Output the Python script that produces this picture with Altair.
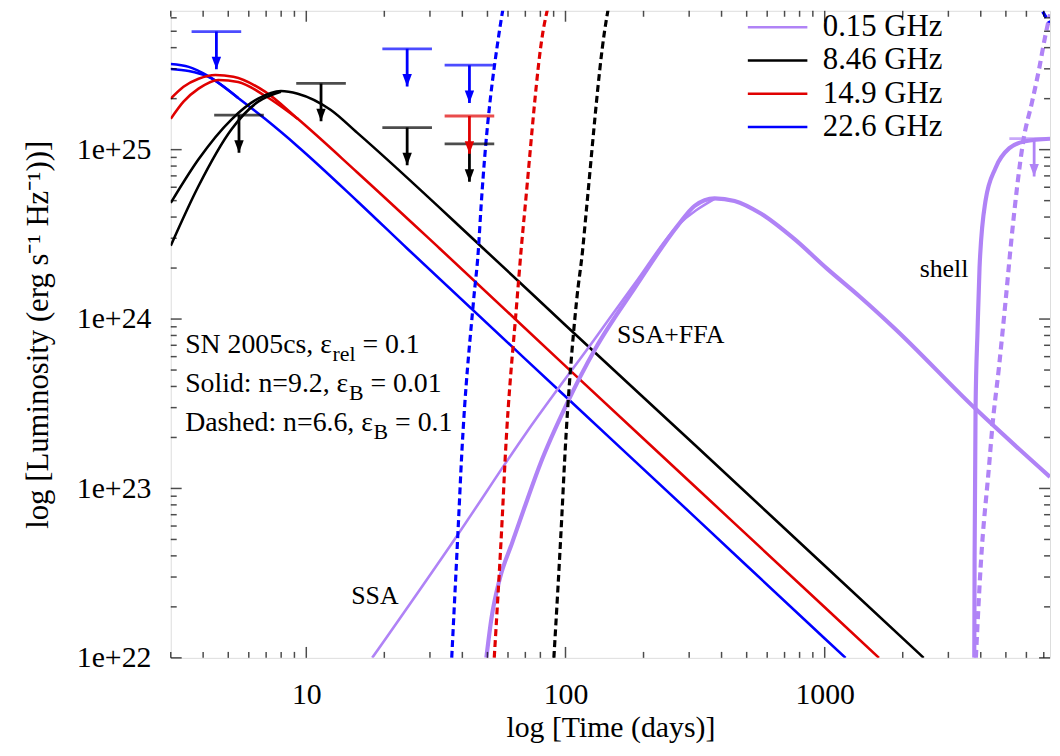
import altair as alt
import pandas as pd

FREQS = ["0.15 GHz", "8.46 GHz", "14.9 GHz", "22.6 GHz"]
COLORS = ["#b083f6", "#000000", "#e00000", "#0000ff"]
T_DOMAIN = [3.0, 7400.0]
L_DOMAIN = [1e22, 6.6e25]
FONT = "Liberation Serif"

# ---- 22.6 GHz solid (two early branches)
blue_a_t = [3.0, 3.52, 4.19, 5.46, 6.93, 9.27, 15.7, 24.5, 100, 315, 1000, 1204]
blue_a_L = [3.20e25, 3.08e25, 2.72e25, 2.02e25, 1.52e25, 1.045e25, 4.98e24, 2.61e24, 3.49e23, 6.80e22, 1.30e22, 1e22]
blue_b_t = [3.0, 3.52, 4.19, 5.46]
blue_b_L = [2.99e25, 2.91e25, 2.69e25, 2.02e25]
# ---- 14.9 GHz solid
red_a_t = [3.0, 3.36, 3.84, 4.46, 5.23, 6.93, 9.27, 15.7, 32.7, 100, 315, 1000, 1620]
red_a_L = [2.00e25, 2.35e25, 2.62e25, 2.76e25, 2.69e25, 2.20e25, 1.52e25, 7.36e24, 2.61e24, 5.27e23, 1.03e23, 1.99e22, 1e22]
red_b_t = [3.0, 3.36, 3.84, 4.58, 5.46, 6.93, 9.27]
red_b_L = [1.52e25, 1.92e25, 2.29e25, 2.58e25, 2.51e25, 2.08e25, 1.52e25]
# ---- 8.46 GHz solid
black_a_t = [3.0, 3.84, 5.14, 6.52, 7.98, 9.27, 12.4, 15.7, 48.2, 100, 315, 1000, 2409]
black_a_L = [4.85e24, 8.77e24, 1.505e25, 2.00e25, 2.22e25, 2.14e25, 1.72e25, 1.26e25, 2.61e24, 9.2e23, 1.81e23, 3.50e22, 1e22]
black_b_t = [3.0, 3.84, 5.14, 6.52, 7.98]
black_b_L = [2.71e24, 6.10e24, 1.315e25, 1.92e25, 2.20e25]
# ---- 0.15 GHz: SSA (thin), SSA+FFA (thick), shell (solid & dashed)
ssa_t = [17.96, 38.0, 70.4, 130.5, 185.7, 271, 376]
ssa_L = [1e22, 5.21e22, 2.12e23, 7.74e23, 1.63e24, 3.56e24, 5.12e24]
ffa_t = [49.5, 51.8, 55.8, 62.2, 69.3, 80.0, 100, 130.5, 185.7, 271, 315, 376, 449, 569, 761, 1018,
         1374, 1836, 3819, 7400]
ffa_L = [1e22, 1.71e22, 2.94e22, 4.76e22, 7.64e22, 1.40e23, 3.04e23, 6.7e23, 1.54e24, 3.56e24, 4.66e24,
         5.16e24, 4.98e24, 4.18e24, 2.98e24, 1.99e24, 1.345e24, 8.98e23, 2.95e23, 1.17e23]
shell_t = [3776, 3787, 3819, 3888, 3957, 4172, 4557, 5157, 5935, 7400]
shell_L = [1e22, 3.87e22, 2.93e23, 8.6e23, 2.02e24, 4.98e24, 7.77e24, 1.02e25, 1.12e25, 1.16e25]
shell_d_t = [3830, 4000, 4307, 4437, 4706, 4990, 5245, 5530, 5832, 6313, 6715, 7081, 7400]
shell_d_L = [1e22, 3.54e22, 1.365e23, 2.34e23, 5.26e23, 1.29e24, 2.89e24, 6.10e24, 1.12e25, 1.92e25,
             2.99e25, 4.62e25, 6.29e25]
# ---- dashed models (n=6.6)
blue_d_t = [36.4, 38.7, 39.7, 44.2, 46.1, 47.2, 55.5, 57.5]
blue_d_L = [1e22, 6.65e22, 1.49e23, 1.29e24, 2.54e24, 4.53e24, 4.93e25, 6.9e25]
blue_d2_t = [6597, 7209, 7400]
blue_d2_L = [7.4e25, 5.9e25, 5.5e25]
red_d_t = [53.1, 57.0, 58.5, 65.0, 67.4, 69.8, 81.8, 85.5]
red_d_L = [1e22, 6.65e22, 1.49e23, 1.29e24, 2.54e24, 4.53e24, 4.93e25, 6.9e25]
black_d_t = [90.2, 96.7, 99.3, 110.4, 116.4, 120.6, 141.3, 146.4]
black_d_L = [1e22, 6.65e22, 1.49e23, 1.29e24, 2.54e24, 4.53e24, 4.93e25, 6.9e25]

# ---- upper limits
ul_t = [5.5, 11.4, 24.5, 42.6, 4.5, 24.5, 42.6, 42.6, 6427]
ul_L = [1.60e25, 2.46e25, 1.35e25, 1.08e25, 4.98e25, 3.94e25, 3.15e25, 1.58e25, 1.16e25]
ul_f = ["8.46 GHz"] * 4 + ["22.6 GHz"] * 3 + ["14.9 GHz", "0.15 GHz"]

curves = [
    ("blue_a", "22.6 GHz", "thin", blue_a_t, blue_a_L),
    ("blue_b", "22.6 GHz", "thin", blue_b_t, blue_b_L),
    ("red_a", "14.9 GHz", "thin", red_a_t, red_a_L),
    ("red_b", "14.9 GHz", "thin", red_b_t, red_b_L),
    ("black_a", "8.46 GHz", "thin", black_a_t, black_a_L),
    ("black_b", "8.46 GHz", "thin", black_b_t, black_b_L),
    ("ssa", "0.15 GHz", "thin", ssa_t, ssa_L),
    ("ffa", "0.15 GHz", "thick", ffa_t, ffa_L),
    ("shell", "0.15 GHz", "thick", shell_t, shell_L),
    ("blue_d", "22.6 GHz", "dash", blue_d_t, blue_d_L),
    ("blue_d2", "22.6 GHz", "dash", blue_d2_t, blue_d2_L),
    ("red_d", "14.9 GHz", "dash", red_d_t, red_d_L),
    ("black_d", "8.46 GHz", "dash", black_d_t, black_d_L),
    ("shell_d", "0.15 GHz", "thickdash", shell_d_t, shell_d_L),
]
rows = []
for name, f, style, ts, Ls in curves:
    for i, (t, L) in enumerate(zip(ts, Ls)):
        rows.append({"curve": name, "freq": f, "style": style, "i": i, "t": t, "L": L})
df = pd.DataFrame(rows)

xs = alt.Scale(type="log", domain=T_DOMAIN, nice=False)
ys = alt.Scale(type="log", domain=L_DOMAIN, nice=False)
cs = alt.Scale(domain=FREQS, range=COLORS)

x_axis = alt.Axis(values=[10, 100, 1000], labelExpr="format(datum.value, 'd')", ticks=False,
                  domain=False, grid=False, labelFont=FONT, labelFontSize=30, labelPadding=22,
                  labelColor="black", title="log [Time (days)]", titleFont=FONT, titleFontSize=30,
                  titleFontWeight="normal", titlePadding=3, titleColor="black", labelFlush=False)
y_axis = alt.Axis(values=[1e22, 1e23, 1e24, 1e25],
                  labelExpr="'1e+' + format(log(datum.value) / LN10, 'd')", ticks=False,
                  domain=False, grid=False, labelFont=FONT, labelFontSize=30, labelPadding=20,
                  labelColor="black", title="log [Luminosity (erg s\u207b\u00b9 Hz\u207b\u00b9))]",
                  titleFont=FONT, titleFontSize=31, titleFontWeight="normal", titlePadding=22,
                  titleColor="black", labelFlush=False)

legend = alt.Legend(title=None, orient="none", legendX=596, legendY=1, symbolType="M-3,0H3",
                    symbolSize=400, symbolStrokeWidth=2.6, symbolFillColor="transparent",
                    labelFont=FONT, labelFontSize=31, labelOffset=30, rowPadding=1.5,
                    labelColor="black", labelLimit=300)


def line_layer(style, width, dash=None, show=False):
    kw = dict(clip=True, strokeWidth=width, interpolate="monotone")
    if dash:
        kw["strokeDash"] = dash
    return alt.Chart(df[df["style"] == style]).mark_line(**kw).encode(
        x=alt.X("t:Q", scale=xs, axis=x_axis),
        y=alt.Y("L:Q", scale=ys, axis=y_axis),
        color=alt.Color("freq:N", scale=cs, legend=legend if show else None),
        detail="curve:N",
        order="i:Q",
    )


layers = [
    line_layer("thin", 2.6, show=True),
    line_layer("thick", 4.2),
    line_layer("dash", 3.2, [7, 4]),
    line_layer("thickdash", 4.2, [8, 5]),
]

ul = pd.DataFrame({"t": ul_t, "L": ul_L, "freq": ul_f})
ARROW_PX = 38
ul["tip"] = ul["L"] * 10 ** (-ARROW_PX / 170.7)
ul_base = alt.Chart(ul)
layers.append(ul_base.mark_tick(orient="horizontal", size=50, thickness=2.8, clip=True).encode(
    x=alt.X("t:Q", scale=xs, axis=x_axis), y=alt.Y("L:Q", scale=ys, axis=y_axis),
    color=alt.Color("freq:N", scale=cs, legend=None)))
layers.append(ul_base.mark_rule(strokeWidth=2.8, clip=True).encode(
    x=alt.X("t:Q", scale=xs, axis=x_axis), y=alt.Y("L:Q", scale=ys, axis=y_axis), y2="tip:Q",
    color=alt.Color("freq:N", scale=cs, legend=None)))
layers.append(ul_base.mark_point(shape="M-0.38,-1L0.38,-1L0,0Z", size=625, filled=True, opacity=1,
                                 clip=True).encode(
    x=alt.X("t:Q", scale=xs, axis=x_axis), y=alt.Y("tip:Q", scale=ys, axis=y_axis),
    color=alt.Color("freq:N", scale=cs, legend=None)))

# ---- axis ticks (inward, mirrored)
x_major = [10, 100, 1000]
x_minor = [m * d for d in (1, 10, 100, 1000) for m in range(2, 10) if T_DOMAIN[0] <= m * d <= T_DOMAIN[1]]
y_major = [1e22, 1e23, 1e24, 1e25]
y_minor = [m * d for d in (1e22, 1e23, 1e24, 1e25) for m in range(2, 10) if m * d <= L_DOMAIN[1]]
for vals, size in ((x_major, 11), (x_minor, 6)):
    for yv, off in ((L_DOMAIN[0], -size / 2), (L_DOMAIN[1], size / 2)):
        d = pd.DataFrame({"t": vals, "L": [yv] * len(vals)})
        layers.append(alt.Chart(d).mark_tick(orient="vertical", size=size, thickness=1.5,
                                             color="black", yOffset=off).encode(
            x=alt.X("t:Q", scale=xs, axis=x_axis), y=alt.Y("L:Q", scale=ys, axis=y_axis)))
for vals, size in ((y_major, 11), (y_minor, 6)):
    for xv, off in ((T_DOMAIN[0], size / 2), (T_DOMAIN[1], -size / 2)):
        d = pd.DataFrame({"t": [xv] * len(vals), "L": vals})
        layers.append(alt.Chart(d).mark_tick(orient="horizontal", size=size, thickness=1.5,
                                             color="black", xOffset=off).encode(
            x=alt.X("t:Q", scale=xs, axis=x_axis), y=alt.Y("L:Q", scale=ys, axis=y_axis)))

# ---- text annotations
W = {'S': 0.556, 'N': 0.722, ' ': 0.25, 'c': 0.444, 's': 0.389, ',': 0.25, '\u03b5': 0.439,
     'o': 0.5, 'l': 0.278, 'i': 0.278, 'd': 0.5, ':': 0.278, 'n': 0.5, '=': 0.564, '.': 0.25,
     'D': 0.722, 'a': 0.444, 'h': 0.5, 'e': 0.444, 'r': 0.333, 'B': 0.667}


def tw(s, fs):
    return sum(W.get(ch, 0.5) for ch in s) * fs


note_lines = [
    ("SN 2005cs, \u03b5", "rel", "= 0.1", 6.32e23),
    ("Solid: n=9.2, \u03b5", "B", "= 0.01", 3.73e23),
    ("Dashed: n=6.6, \u03b5", "B", "= 0.1", 2.18e23),
]
NOTE_T = 3.41
FS, FSS = 28, 22
for main, sub, rest, Lv in note_lines:
    d = pd.DataFrame({"t": [NOTE_T], "L": [Lv]})
    w1 = tw(main, FS)
    w2 = tw(sub, FSS)
    pieces = ((main, 0, 0, FS), (sub, w1, 8, FSS), (rest, w1 + w2 + tw(" ", FS), 0, FS))
    for txt, dx, dy, fs in pieces:
        layers.append(alt.Chart(d).mark_text(text=txt, align="left", baseline="alphabetic",
                                             dx=dx, dy=dy, font=FONT, fontSize=fs,
                                             color="black").encode(
            x=alt.X("t:Q", scale=xs, axis=x_axis), y=alt.Y("L:Q", scale=ys, axis=y_axis)))

labels = pd.DataFrame({
    "t": [18.4, 158.0, 2325.0],
    "L": [2.32e22, 8.05e23, 1.98e24],
    "text": ["SSA", "SSA+FFA", "shell"],
    "align": ["center", "left", "left"],
})
for _, r in labels.iterrows():
    d = pd.DataFrame({"t": [r["t"]], "L": [r["L"]]})
    layers.append(alt.Chart(d).mark_text(text=r["text"], align=r["align"], baseline="middle",
                                         font=FONT, fontSize=26, color="black").encode(
        x=alt.X("t:Q", scale=xs, axis=x_axis), y=alt.Y("L:Q", scale=ys, axis=y_axis)))

chart = alt.layer(*layers).properties(
    width=886, height=652, autosize="none",
    padding={"left": 164, "top": 0, "right": 2, "bottom": 88},
).configure_view(stroke="black", strokeWidth=2).configure(background="white")

chart.save("out.html", embed_options={"renderer": "svg", "actions": False})
